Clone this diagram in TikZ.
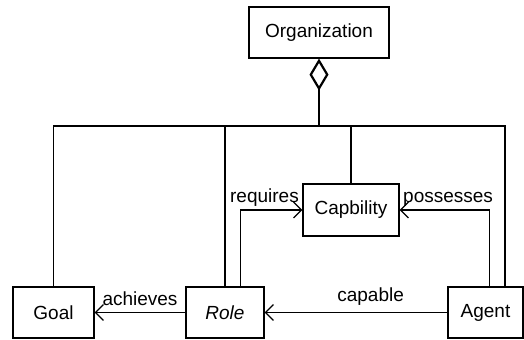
\documentclass[tikz,border=0pt]{standalone}
\usepackage{fontspec}
\setmainfont{Liberation Sans}
\usetikzlibrary{arrows.meta}

\begin{document}
\begin{tikzpicture}[x=0.5pt,y=-0.5pt,font=\fontsize{9.5}{11}\selectfont,
        class node/.style={rectangle, draw, fill=white, line width=0.6pt,
        inner sep=0pt, minimum height=25.5pt},
        assoc/.style={draw, line width=0.6pt, -{Straight Barb[length=4pt,width=8pt]}},
        tree line/.style={draw, line width=0.6pt}
        ]
        \useasboundingbox (0,0) rectangle (524,339);

        \node [class node, minimum width=70pt] (org) at (319,32.5) {Organization} ;
        \node [class node, minimum width=40.5pt] (goal) at (53.5,312.5) {Goal} ;
        \node [class node, minimum width=39pt] (role) at (225,312.5) {\textit{Role}} ;
        \node [class node, minimum width=48pt, minimum height=26pt] (cap) at (351,210) {Capbility} ;
        \node [class node, minimum width=37.5pt] (agent) at (485.5,312.5) {Agent} ;

        \coordinate (hub) at (319,126) ;
        \coordinate (bus end) at (505,126) ;

        % aggregation
        \draw [line width=1.1pt, {Diamond[open,length=16pt,width=9.5pt]}-] (org.south) -- (hub) ;

        \path[tree line]
        (goal.north) |- (bus end) -- (bus end |- agent.north)
        (role.north) -- (role.north |- hub)
        (cap.north) -- (cap.north |- hub)
        ;

        \path[assoc]
        (role) -- node [above] {achieves} (goal) ;
        \path[assoc]
        (agent) -- node [above, pos=0.42] {capable} (role) ;
        \path[assoc]
        ([xshift=7.8pt]role.north) |- node [pos=1, anchor=south east, inner sep=1.5pt] {requires} (cap.west) ;
        \path[assoc]
        ([xshift=1.9pt]agent.north) |- node [pos=1, anchor=south west, inner sep=1.5pt] {possesses} (cap.east) ;
     \end{tikzpicture}
\end{document}
